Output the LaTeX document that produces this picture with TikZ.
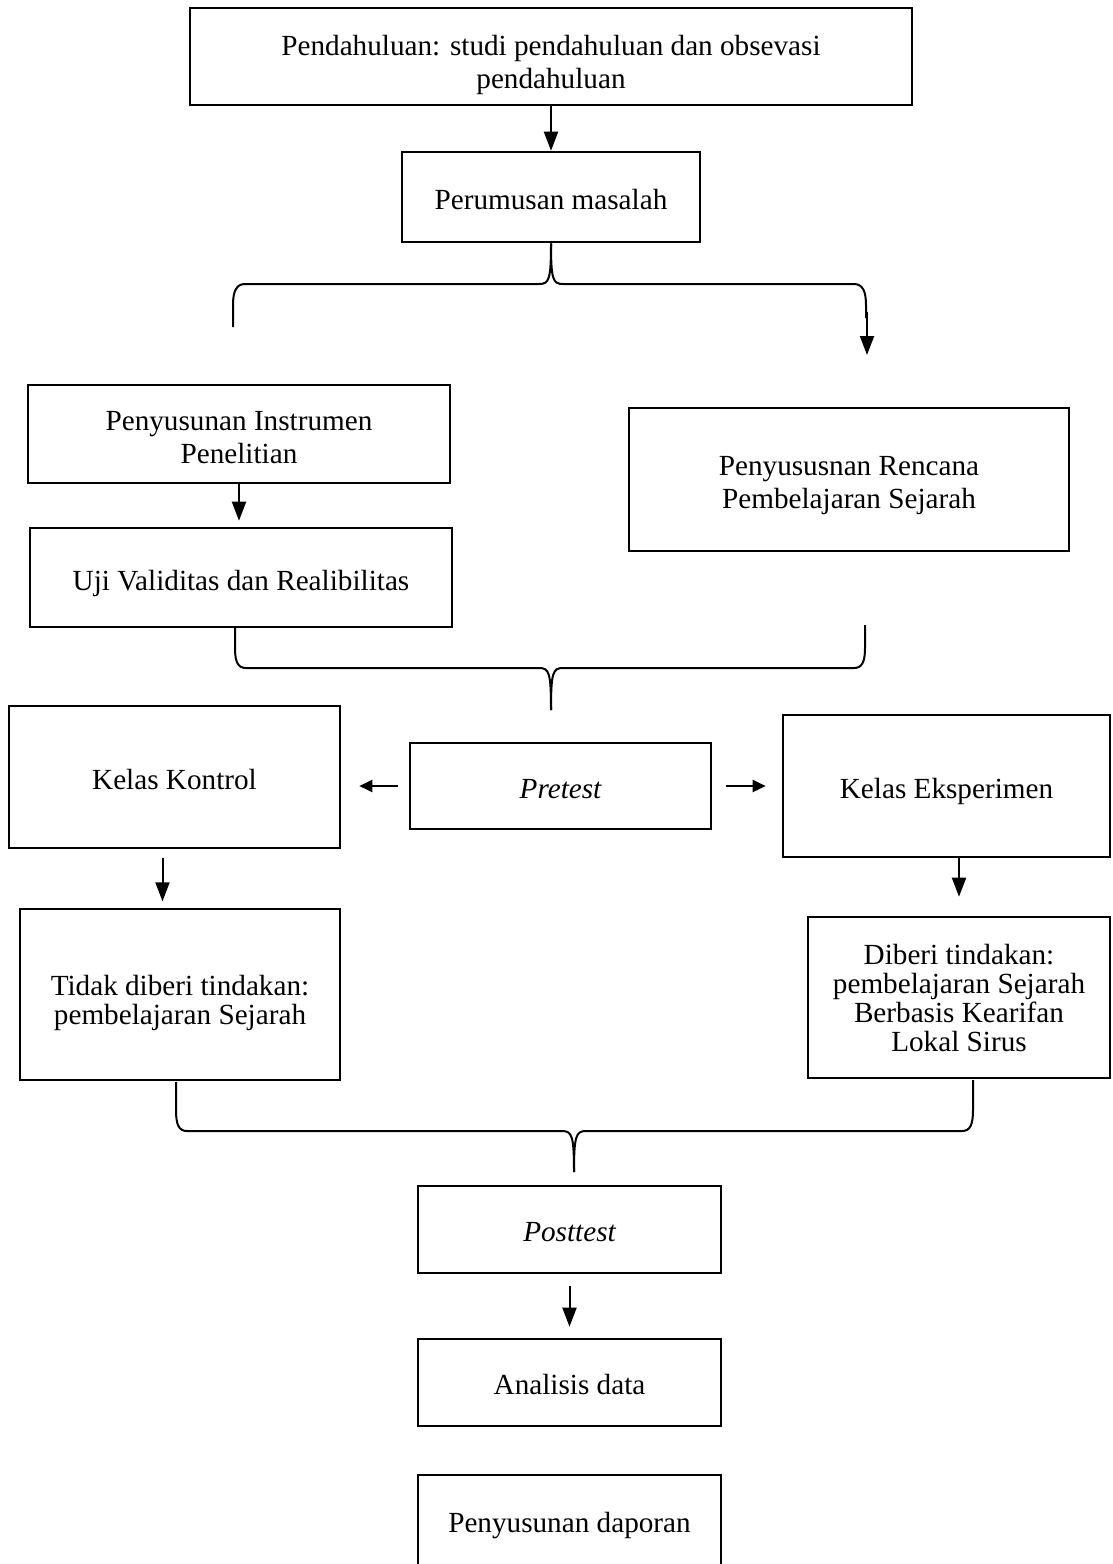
\documentclass[tikz,border=0pt]{standalone}
\usepackage{fontspec}
\setmainfont{Liberation Serif}
\usetikzlibrary{arrows.meta,calc}
\begin{document}
\begin{tikzpicture}[x=1pt,y=-1pt,
  box/.style={draw,line width=2.6pt,inner sep=0pt},
  txt/.style={align=center,inner sep=0pt,font=\fontsize{29.2}{33}\selectfont},
  tight/.style={align=center,inner sep=0pt,font=\fontsize{29.2}{29}\selectfont},
  conn/.style={line width=2pt},
  arr/.style={line width=2pt,-{Triangle[width=14pt,length=19pt]}},
  harr/.style={line width=2pt,-{Triangle[width=12pt,length=13pt]}}]
\useasboundingbox (0,0) rectangle (1112,1564);

\node[box,minimum width=722pt,minimum height=97pt,
  label={[txt,yshift=-8pt]center:{Pendahuluan: studi pendahuluan dan obsevasi\\pendahuluan}}]
  (A) at (551,56.5) {};
\node[box,minimum width=298pt,minimum height=90pt,
  label={[txt,yshift=-3pt]center:{Perumusan masalah}}] (B) at (551,197) {};
\node[box,minimum width=422pt,minimum height=98pt,
  label={[txt,yshift=-4pt]center:{Penyusunan Instrumen\\Penelitian}}] (C) at (239,434) {};
\node[box,minimum width=422pt,minimum height=99pt,
  label={[txt,yshift=-6pt]center:{Uji Validitas dan Realibilitas}}] (D) at (241,577.5) {};
\node[box,minimum width=440pt,minimum height=143pt,
  label={[txt,yshift=-6pt]center:{Penyususnan Rencana\\Pembelajaran Sejarah}}] (E) at (849,479.5) {};
\node[box,minimum width=331pt,minimum height=142pt,
  label={[txt,yshift=-3pt]center:{Kelas Kontrol}}] (K) at (174.5,777) {};
\node[box,minimum width=301pt,minimum height=86pt,
  label={[txt,yshift=-3pt]center:{\itshape Pretest}}] (P) at (560.5,786) {};
\node[box,minimum width=327pt,minimum height=142pt,
  label={[txt,yshift=-5pt]center:{Kelas Eksperimen}}] (X) at (946.5,786) {};
\node[box,minimum width=320pt,minimum height=171pt,
  label={[tight,yshift=-8pt]center:{Tidak diberi tindakan:\\pembelajaran Sejarah}}] (T) at (180,994.5) {};
\node[box,minimum width=302pt,minimum height=161pt,
  label={[tight]center:{Diberi tindakan:\\pembelajaran Sejarah\\Berbasis Kearifan\\Lokal Sirus}}] (G) at (959,997.5) {};
\node[box,minimum width=303pt,minimum height=87pt,
  label={[txt,yshift=-3pt]center:{\itshape Posttest}}] (Q) at (569.5,1229.5) {};
\node[box,minimum width=303pt,minimum height=87pt,
  label={[txt,yshift=-2pt]center:{Analisis data}}] (N) at (569.5,1382.5) {};
\node[box,minimum width=303pt,minimum height=100pt,
  label={[txt,yshift=-1pt]center:{Penyusunan daporan}}] (L) at (569.5,1525) {};

% arrows
\draw[arr] (A.south) -- (B.north);
\draw[arr,shorten >=6pt] (C.south) -- (C.south |- D.north);
\draw[harr,shorten <=11pt,shorten >=18pt] (P.west) -- (P.west -| K.east);
\draw[harr,shorten <=14pt,shorten >=16pt] (P.east) -- (P.east -| X.west);
\draw[arr] (K.south) ++(-12,9) -- ++(0,43);
\draw[arr,shorten >=19pt] (X.south -| G.north) -- (G.north);
\draw[arr,shorten <=12pt,shorten >=11pt] (Q.south) -- (N.north);

% brace 1
\coordinate (b1l) at (233,327);
\coordinate (b1r) at (866,318);
\draw[conn] (B.south) .. controls (551,280) and (549,284) .. (539,284)
  -- (245,284) .. controls (236,284) and (233,292) .. (233,305) -- (b1l);
\draw[conn] (B.south) .. controls (551,280) and (553,284) .. (563,284)
  -- (854,284) .. controls (863,284) and (866,292) .. (866,305) -- (b1r);
\coordinate (a1s) at (867,312);
\coordinate (a1e) at (867,355);
\draw[arr] (a1s) -- (a1e);

% brace 2
\coordinate (b2l) at (235,627);
\coordinate (b2r) at (865,625);
\coordinate (b2t) at (551,710);
\draw[conn] (b2l) -- (235,648) .. controls (235,662) and (238,668) .. (246,668)
  -- (539,668) .. controls (549,668) and (551,672) .. (b2t);
\draw[conn] (b2r) -- (865,648) .. controls (865,662) and (862,668) .. (854,668)
  -- (563,668) .. controls (553,668) and (551,672) .. (b2t);

% brace 3
\coordinate (b3l) at (176,1082);
\coordinate (b3r) at (973,1080);
\coordinate (b3t) at (574,1172);
\draw[conn] (b3l) -- (176,1110) .. controls (176,1125) and (179,1131) .. (187,1131)
  -- (562,1131) .. controls (572,1131) and (574,1136) .. (b3t);
\draw[conn] (b3r) -- (973,1110) .. controls (973,1125) and (970,1131) .. (962,1131)
  -- (586,1131) .. controls (576,1131) and (574,1136) .. (b3t);
\end{tikzpicture}
\end{document}
